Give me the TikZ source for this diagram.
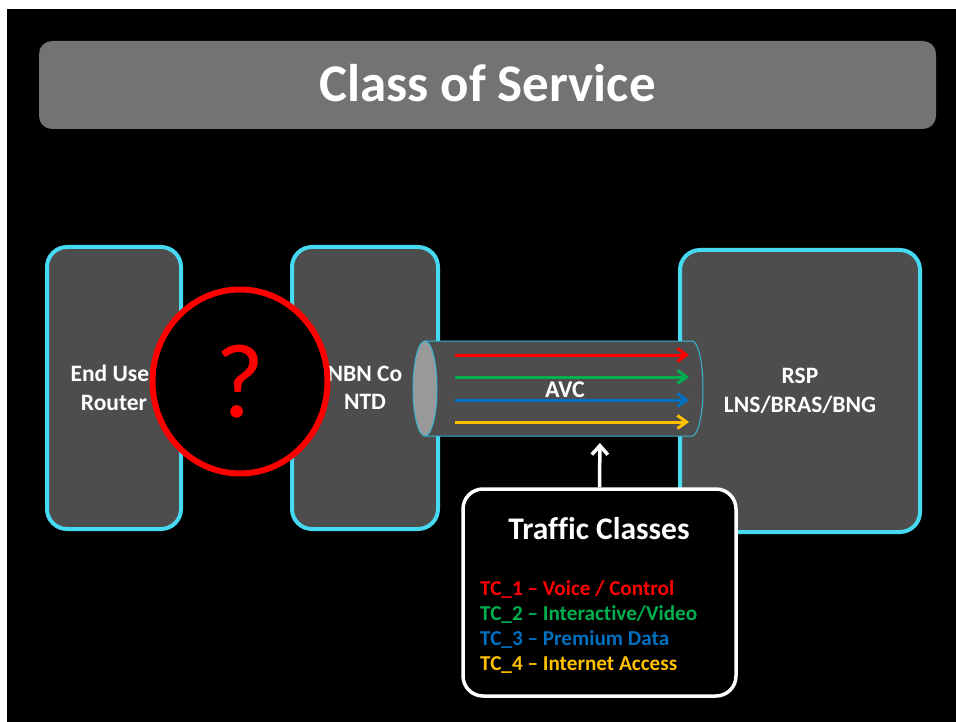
\documentclass[tikz,border=0pt]{standalone}
\usepackage{fontspec}
\setmainfont{Carlito}[Ligatures={NoCommon}]
\usetikzlibrary{arrows.meta,shapes.geometric}
\definecolor{cyanb}{HTML}{45D9F2}
\definecolor{boxfill}{HTML}{4D4D4D}
\definecolor{titlefill}{HTML}{737373}
\definecolor{tcred}{HTML}{FF0000}
\definecolor{tcgreen}{HTML}{00B050}
\definecolor{tcblue}{HTML}{0070C0}
\definecolor{tcyellow}{HTML}{FFC000}
\definecolor{endgray}{HTML}{999999}
\definecolor{cylline}{HTML}{38B6CF}
\begin{document}
\begin{tikzpicture}[x=1pt,y=-1pt,
  devbox/.style={draw=cyanb, line width=4pt, fill=boxfill, rounded corners=20pt, inner sep=0pt,
    text=white, align=center},
  devtext/.style={font=\fontsize{23.5}{28.5}\selectfont\bfseries},
  flow/.style={line width=3pt, -{Straight Barb[length=9pt,width=13pt]}},
  tcline/.style={anchor=base west, inner sep=0pt, font=\fontsize{21.2}{24}\selectfont\bfseries}
]
\useasboundingbox (0,0) rectangle (956,722);
\fill[white] (0,0) rectangle (956,722);
\fill[black] (7,9) rectangle (956,722);

% title
\node[fill=titlefill, rounded corners=13pt, minimum width=897pt, minimum height=88pt, inner sep=0pt] (title) at (487.5,85) {};
\node[anchor=base, text=white, font=\fontsize{53}{60}\selectfont\bfseries] (titletext) at (487.5,102) {Class of Service};

% devices
\node[devbox, devtext, minimum width=134pt, minimum height=282pt] (eur) at (114,388) {End User\\Router};
\node[devbox, devtext, minimum width=146pt, minimum height=282pt] (ntd) at (365,388) {NBN Co\\NTD};
\node[devbox, devtext, minimum width=240pt, minimum height=282pt] (rsp) at (800,391) {RSP\\LNS/BRAS/BNG};

% question circle
\node[ellipse, draw=tcred, line width=6pt, fill=black, minimum width=175pt, minimum height=184pt, inner sep=0pt,
      text=tcred, font=\fontsize{106}{106}\selectfont] (q) at (240,381.5) {?};

% AVC pipe
\draw[cylline, line width=1pt, fill=boxfill] (425,341) -- (692,341)
  arc[start angle=-90, end angle=90, x radius=11, y radius=47.5] -- (425,436) -- cycle;
\node[ellipse, draw=cylline, line width=1pt, fill=endgray, minimum width=24pt, minimum height=95pt, inner sep=0pt] (avcend) at (425,388.5) {};
\coordinate (avcbot) at (600,436);
\node[anchor=base, text=white, font=\fontsize{24}{24}\selectfont\bfseries] (avc) at (565,397) {AVC};

\coordinate (s1) at (455,355); \coordinate (e1) at (689,355);
\coordinate (s2) at (455,377); \coordinate (e2) at (689,377);
\coordinate (s3) at (455,400); \coordinate (e3) at (689,400);
\coordinate (s4) at (455,422); \coordinate (e4) at (689,422);
\draw[flow, tcred] (s1) -- (e1);
\draw[flow, tcgreen] (s2) -- (e2);
\draw[flow, tcblue] (s3) -- (e3);
\draw[flow, tcyellow] (s4) -- (e4);

% traffic classes box
\node[draw=white, line width=3.5pt, fill=black, rounded corners=20pt, minimum width=273pt, minimum height=207pt, inner sep=0pt] (tcbox) at (599.5,592.5) {};
\node[anchor=base, text=white, font=\fontsize{31.5}{34}\selectfont\bfseries] (tctitle) at (599,539) {Traffic Classes};
\node[tcline, text=tcred] (tc1) at (480,595) {TC\_1 – Voice / Control};
\node[tcline, text=tcgreen] (tc2) at (480,620) {TC\_2 – Interactive/Video};
\node[tcline, text=tcblue] (tc3) at (480,645) {TC\_3 – Premium Data};
\node[tcline, text=tcyellow] (tc4) at (480,670) {TC\_4 – Internet Access};

\draw[white, line width=3.5pt, -{Straight Barb[length=9pt,width=16pt]}, shorten >=7pt] (tcbox.north) -- (avcbot);
\end{tikzpicture}
\end{document}
